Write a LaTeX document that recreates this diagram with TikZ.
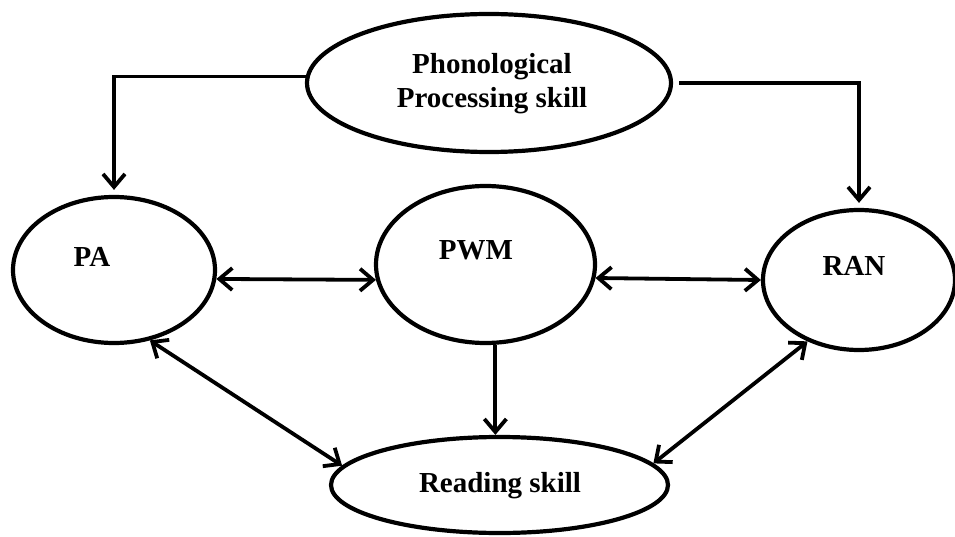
\documentclass[tikz,border=0pt]{standalone}
\usepackage{fontspec}
\setmainfont{Liberation Serif}
\usetikzlibrary{shapes.geometric,arrows.meta}
\tikzset{barb/.tip={Straight Barb[length=13pt,width=22pt]}}
\begin{document}
\begin{tikzpicture}[x=1pt,y=-1pt,
  oval/.style={draw,ellipse,line width=4.2pt,inner sep=0pt},
  lbl/.style={font=\fontsize{29}{34}\selectfont\bfseries,inner sep=0pt},
  conn/.style={line width=3.8pt}]
\useasboundingbox (0,0) rectangle (955,537);
% ellipses
\node[oval,minimum width=364pt,minimum height=138pt] (top) at (489,83) {};
\node[oval,minimum width=202pt,minimum height=146pt] (pa) at (114,270) {};
\node[oval,minimum width=219pt,minimum height=157pt] (pwm) at (485.5,264.5) {};
\node[oval,minimum width=192pt,minimum height=140pt] (ran) at (859,280) {};
\node[oval,minimum width=337pt,minimum height=96pt] (reading) at (499.5,485) {};
% labels
\node[lbl,align=center] (ttop) at (492,84) {Phonological\\Processing skill};
\node[lbl,anchor=base] (tpa) at (92,266) {PA};
\node[lbl,anchor=base] (tpwm) at (476,260) {PWM};
\node[lbl,anchor=base] (tran) at (854,275) {RAN};
\node[lbl,anchor=base] (tread) at (500,492) {Reading skill};
% connectors
\draw[conn,-barb,shorten >=5pt] (top.178) -| (pa.north);
\draw[conn,-barb,shorten <=6pt,shorten >=5pt] (top.east) -| (ran.north);
\draw[conn,barb-barb] (pa.-5) -- (pwm.-172);
\draw[conn,barb-barb] (pwm.-7) -- (ran.west);
\draw[conn,-barb] (pwm.-83) -- (pwm.-83 |- reading.north);
\draw[conn,barb-barb] (pa.-63) -- (reading.173);
\draw[conn,barb-barb] (ran.230) -- (reading.8);
\end{tikzpicture}
\end{document}
